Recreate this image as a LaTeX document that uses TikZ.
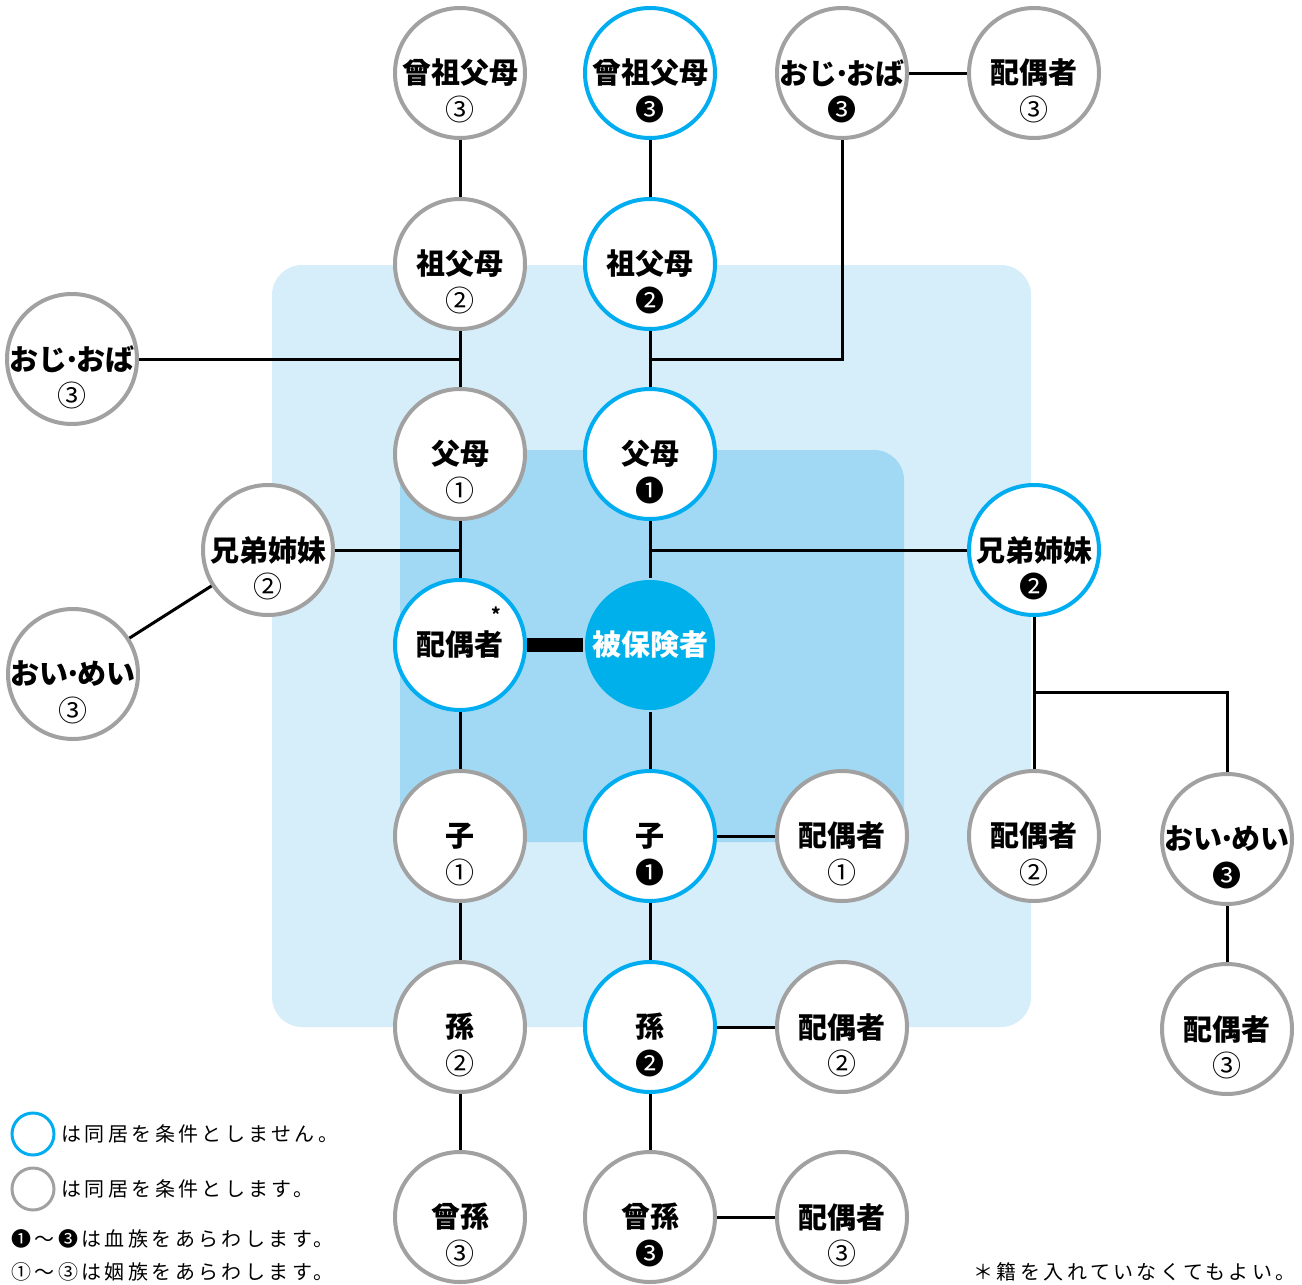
\documentclass[tikz,border=0pt]{standalone}
\usepackage{fontspec}
\setmainfont{Noto Sans CJK JP}
\usepackage{xcolor}
\definecolor{CyanLine}{rgb}{0.0, 0.68, 0.94}
\definecolor{GrayLine}{rgb}{0.63, 0.63, 0.63}
\definecolor{PaleBlue}{rgb}{0.84, 0.93, 0.98}
\definecolor{MidBlue}{rgb}{0.63, 0.85, 0.96}
\definecolor{InsuredBlue}{rgb}{0.0, 0.69, 0.92}
\newcommand{\ndot}{\makebox[0.32em]{·}}

\begin{document}
\begin{tikzpicture}[x=0.5pt,y=-0.5pt,
	person/.style={circle,minimum size=65pt,inner sep=0pt,line width=2pt,fill=white,font=\bfseries\fontsize{14.5}{16}\selectfont},
	direct/.style={person,draw=CyanLine},
	inlaw/.style={person,draw=GrayLine},
	grade/.style={inner sep=0pt,font=\fontsize{14.5}{15}\selectfont},
	link/.style={line width=1.5pt},
	keytxt/.style={anchor=west,inner sep=0pt,font=\fontsize{10}{12}\selectfont\addfontfeature{LetterSpace=17}}]

\useasboundingbox (0,0) rectangle (1302,1285);

%Shape: Rectangle [outer area]
\fill [PaleBlue,rounded corners=15pt] (272,265) rectangle (1031,1027);
%Shape: Rectangle [inner area]
\fill [MidBlue,rounded corners=15pt] (400,450) rectangle (904,842);

%Junctions
\coordinate (jGp) at (460,359);
\coordinate (jAunt) at (650,359);
\coordinate (jSibL) at (460,550);
\coordinate (jSibR) at (650,550);
\coordinate (jNiece) at (1034,692);

%Shape: Circle [people]
\node [inlaw] (ggpL) at (460,73) {曾祖父母};
\node [direct] (ggpR) at (650,73) {曾祖父母};
\node [inlaw] (auntR) at (842,73) {おじ\ndot おば};
\node [inlaw] (auntRsp) at (1034,73) {配偶者};
\node [inlaw] (gpL) at (460,264) {祖父母};
\node [direct] (gpR) at (650,264) {祖父母};
\node [inlaw] (auntL) at (72,359) {おじ\ndot おば};
\node [inlaw] (parL) at (460,454) {父母};
\node [direct] (parR) at (650,454) {父母};
\node [inlaw] (sibL) at (268,550) {兄弟姉妹};
\node [direct] (sibR) at (1034,550) {兄弟姉妹};
\node [inlaw] (nieceL) at (73,674) {おい\ndot めい};
\node [direct] (spouse) at (460,645) {配偶者\llap{\smash{\raisebox{2.2ex}{\fontsize{9}{9}\selectfont *}}\hspace{1pt}}};
\node [person,fill=InsuredBlue,text=white] (insured) at (650,645) {被保険者};
\node [inlaw] (kidL) at (460,836) {子};
\node [direct] (kidR) at (650,836) {子};
\node [inlaw] (kidRsp) at (842,836) {配偶者};
\node [inlaw] (sibRsp) at (1034,836) {配偶者};
\node [inlaw] (nieceR) at (1227,839) {おい\ndot めい};
\node [inlaw] (nieceRsp) at (1227,1029) {配偶者};
\node [inlaw] (gcL) at (460,1027) {孫};
\node [direct] (gcR) at (650,1027) {孫};
\node [inlaw] (gcRsp) at (842,1027) {配偶者};
\node [inlaw] (ggcL) at (460,1217) {曾孫};
\node [inlaw] (ggcR) at (650,1217) {曾孫};
\node [inlaw] (ggcRsp) at (842,1217) {配偶者};

% Text Node [degrees]
\node [grade] (ggpL-d) at (460,109) {③};
\node [grade] (ggpR-d) at (650,109) {❸};
\node [grade] (auntR-d) at (842,109) {❸};
\node [grade] (auntRsp-d) at (1034,109) {③};
\node [grade] (gpL-d) at (460,300) {②};
\node [grade] (gpR-d) at (650,300) {❷};
\node [grade] (auntL-d) at (72,395) {③};
\node [grade] (parL-d) at (460,490) {①};
\node [grade] (parR-d) at (650,490) {❶};
\node [grade] (sibL-d) at (268,586) {②};
\node [grade] (sibR-d) at (1034,586) {❷};
\node [grade] (nieceL-d) at (73,710) {③};
\node [grade] (kidL-d) at (460,872) {①};
\node [grade] (kidR-d) at (650,872) {❶};
\node [grade] (kidRsp-d) at (842,872) {①};
\node [grade] (sibRsp-d) at (1034,872) {②};
\node [grade] (nieceR-d) at (1227,875) {❸};
\node [grade] (nieceRsp-d) at (1227,1065) {③};
\node [grade] (gcL-d) at (460,1063) {②};
\node [grade] (gcR-d) at (650,1063) {❷};
\node [grade] (gcRsp-d) at (842,1063) {②};
\node [grade] (ggcL-d) at (460,1253) {③};
\node [grade] (ggcR-d) at (650,1253) {❸};
\node [grade] (ggcRsp-d) at (842,1253) {③};

%Straight Lines [left line]
\draw [link] (ggpL) -- (gpL);
\draw [link] (gpL) -- (parL);
\draw [link] (auntL) -- (jGp);
\draw [link] (parL) -- (spouse);
\draw [link] (sibL) -- (jSibL);
\draw [link] (sibL) -- (nieceL);
\draw [link] (spouse) -- (kidL);
\draw [link] (kidL) -- (gcL);
\draw [link] (gcL) -- (ggcL);
%Straight Lines [insured line]
\draw [link] (ggpR) -- (gpR);
\draw [link] (gpR) -- (parR);
\draw [link] (jAunt) -| (auntR);
\draw [link] (auntR) -- (auntRsp);
\draw [link] (parR) -- (insured);
\draw [link] (jSibR) -- (sibR);
\draw [link] (insured) -- (kidR);
\draw [link] (kidR) -- (kidRsp);
\draw [link] (kidR) -- (gcR);
\draw [link] (gcR) -- (gcRsp);
\draw [link] (gcR) -- (ggcR);
\draw [link] (ggcR) -- (ggcRsp);
%Straight Lines [siblings]
\draw [link] (sibR) -- (sibRsp);
\draw [link] (jNiece) -| (nieceR);
\draw [link] (nieceR) -- (nieceRsp);
%Straight Lines [marriage]
\draw [line width=7pt] (spouse) -- (insured);

%Legend
\node [circle,draw=CyanLine,line width=1.5pt,minimum size=21pt] (keyA) at (33,1134) {};
\node [circle,draw=GrayLine,line width=1.5pt,minimum size=21pt] (keyB) at (33,1189) {};
\node [keytxt] (keyA-t) at (61,1134) {は同居を条件としません。};
\node [keytxt] (keyB-t) at (61,1189) {は同居を条件とします。};
\node [keytxt] (keyC-t) at (11,1239) {❶〜❸は血族をあらわします。};
\node [keytxt] (keyD-t) at (11,1272) {①〜③は姻族をあらわします。};
\node [keytxt,anchor=east] (note) at (1296,1272) {＊籍を入れていなくてもよい。};

\end{tikzpicture}
\end{document}
